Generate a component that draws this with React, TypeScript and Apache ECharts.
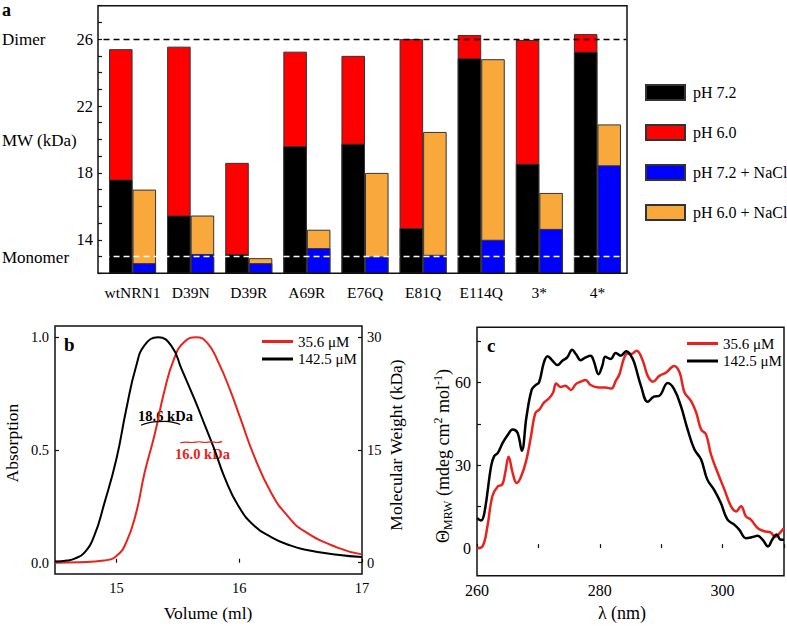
import React, { useEffect, useRef } from 'react';
import * as echarts from 'echarts';

const FONT = 'Liberation Serif';
const RED = '#e8231d';

// Panel a: SEC-MALS molecular weights (kDa)
const categories = ['wtNRN1', 'D39N', 'D39R', 'A69R', 'E76Q', 'E81Q', 'E114Q', '3*', '4*'];
const ph72 = [17.6, 15.45, 13.15, 19.6, 19.75, 14.7, 24.85, 18.55, 25.25];
const ph60 = [25.4, 25.55, 18.6, 25.25, 25.0, 26.0, 26.25, 25.95, 26.3];
const ph72NaCl = [12.6, 13.15, 12.6, 13.5, 13.0, 13.1, 14.0, 14.65, 18.45];
const ph60NaCl = [17.0, 15.45, 12.9, 14.6, 18.0, 20.45, 24.8, 16.8, 20.9];
const legendA = ['pH 7.2', 'pH 6.0', 'pH 7.2 + NaCl', 'pH 6.0 + NaCl'];
const dimerMW = 26;
const monomerMW = 13;
const aTickLabels = [14, 18, 22, 26];

// Panel b: SEC elution profiles [volume ml, absorption]
const concLabels = ['35.6 μM', '142.5 μM'];
const redB = [[14.5, 0.0], [14.7, 0.002], [14.9, 0.01], [15.0, 0.03], [15.08, 0.09], [15.16, 0.22], [15.23, 0.4], [15.31, 0.565], [15.39, 0.76], [15.47, 0.905], [15.55, 0.978], [15.65, 1.0], [15.74, 0.975], [15.83, 0.89], [15.93, 0.76], [16.01, 0.64], [16.12, 0.475], [16.26, 0.31], [16.39, 0.21], [16.53, 0.14], [16.8, 0.067], [17.0, 0.037]];
const blackB = [[14.5, 0.005], [14.6, 0.01], [14.66, 0.018], [14.74, 0.045], [14.82, 0.12], [14.9, 0.26], [15.0, 0.46], [15.08, 0.68], [15.16, 0.87], [15.23, 0.965], [15.34, 1.0], [15.45, 0.96], [15.53, 0.86], [15.64, 0.72], [15.72, 0.61], [15.8, 0.5], [15.88, 0.38], [15.99, 0.255], [16.12, 0.165], [16.26, 0.114], [16.4, 0.08], [16.53, 0.059], [16.8, 0.035], [17.0, 0.025]];
// MW traces across peaks (kDa, right axis)
const mwBlack = [[15.2, 18.3], [15.26, 18.6], [15.33, 18.78], [15.4, 18.8], [15.47, 18.65], [15.52, 18.4]];
const mwRed = [[15.52, 15.95], [15.57, 16.05], [15.62, 16.0], [15.67, 16.1], [15.72, 16.0], [15.77, 16.08], [15.82, 16.0], [15.86, 16.15]];
const mwBlackLabel = '18.6 kDa';
const mwRedLabel = '16.0 kDa';

// Panel c: near-UV CD spectra [λ nm, Θ]
const redC = [[260, 0], [260.9, 0.6], [261.7, 7.9], [262.5, 18.8], [263.4, 22.4], [264.1, 23], [264.6, 27.3], [265.15, 33.1], [265.8, 27.3], [266.45, 23.6], [267.1, 25.5], [268.0, 31.5], [268.8, 40.6], [269.5, 48.9], [270.2, 50.3], [270.9, 52.7], [271.7, 54.2], [272.4, 56.4], [272.9, 59.6], [273.6, 58.4], [274.4, 58.8], [275.3, 57.3], [276.1, 59.4], [276.9, 60.3], [277.7, 60.9], [278.5, 59.1], [279.85, 58.2], [280.9, 58.2], [281.9, 57.8], [282.6, 60.6], [283.2, 63], [283.9, 68.5], [284.5, 70.5], [285.1, 70.3], [286.0, 71.5], [287.0, 67.9], [287.8, 62.4], [288.65, 60.3], [289.7, 62.4], [290.8, 63.6], [292.1, 66], [293.0, 63.6], [293.8, 56.4], [294.85, 53.3], [295.7, 49.1], [296.5, 43], [297.3, 41.2], [298.1, 34], [299.2, 27.3], [300.3, 21.2], [301.35, 15.2], [302.2, 13.3], [303.0, 15.2], [303.8, 11.5], [304.6, 10.3], [305.7, 7.3], [306.8, 6.1], [307.8, 5.7], [308.6, 4], [309.4, 5.7], [310, 7.3]];
const blackC = [[260, 10.9], [260.65, 10], [261.2, 12.7], [262.3, 29.7], [262.8, 33.3], [263.4, 34.5], [264.2, 38.2], [265.0, 41], [265.8, 43], [266.6, 41.8], [267.3, 35.3], [268.06, 47.6], [268.9, 57.3], [269.5, 59], [270.1, 60], [270.9, 67.3], [271.5, 69.5], [272.3, 67.9], [273.1, 66.3], [273.9, 67.9], [274.7, 69.1], [275.5, 71.9], [276.1, 70.3], [276.9, 68.1], [277.7, 69.1], [278.5, 69.7], [279.0, 67.9], [279.8, 63], [280.4, 66], [280.9, 69.3], [281.75, 68.5], [282.6, 70.7], [283.4, 69.7], [284.3, 71.3], [285.0, 70.0], [285.6, 67.3], [286.7, 58.8], [287.8, 53], [288.8, 54.9], [289.7, 55.2], [291.05, 59.8], [292.1, 57.6], [293.2, 51.5], [294.3, 43], [295.4, 35.8], [296.5, 32.1], [297.5, 24.9], [298.6, 21.2], [299.7, 16.4], [300.8, 10.3], [301.9, 8.5], [302.7, 6.7], [303.8, 3.6], [304.85, 4], [305.7, 4.5], [306.5, 3.1], [307.4, 0.6], [308.1, 3.1], [308.8, 4.9], [309.4, 3.1], [310, 3]];

const txt = (extra: any) => ({ color: '#000', fontFamily: FONT, ...extra });

export default function App() {
  const ref = useRef<HTMLDivElement>(null);
  useEffect(() => {
    if (!ref.current) return;
    const chart = echarts.init(ref.current, null, { renderer: 'svg' });
    const tickStyle = { color: '#111', width: 1.2 };
    const barBorder = { borderColor: '#333', borderWidth: 1 };
    const option: any = {
      animation: false,
      backgroundColor: '#fff',
      textStyle: { fontFamily: FONT },
      grid: [
        { left: 103.5, top: 5.7, width: 523, height: 267.5 },
        { left: 55, top: 326, width: 307, height: 248, show: true, borderColor: '#111', borderWidth: 1.5, backgroundColor: 'transparent' },
        { left: 477, top: 327.3, width: 308, height: 248.4, show: true, borderColor: '#111', borderWidth: 1.5, backgroundColor: 'transparent' },
      ],
      xAxis: [
        { type: 'category', gridIndex: 0, data: categories, axisLine: { show: false }, axisTick: { show: false }, axisLabel: txt({ fontSize: 15.5, margin: 11, interval: 0 }) },
        { type: 'category', gridIndex: 0, data: categories, show: false },
        { type: 'value', gridIndex: 1, min: 14.5, max: 17, axisLine: { show: false }, splitLine: { show: false },
          axisTick: { inside: true, length: 4, customValues: [15, 16, 17], lineStyle: tickStyle },
          axisLabel: txt({ customValues: [15, 16, 17], fontSize: 14.5, margin: 6 }) },
        { type: 'value', gridIndex: 2, min: 260, max: 310, interval: 10, axisLine: { show: false }, splitLine: { show: false },
          axisTick: { inside: true, length: 4, lineStyle: tickStyle },
          axisLabel: txt({ fontSize: 16, margin: 7, formatter: (v: number) => (v % 20 === 0 ? String(v) : '') }) },
      ],
      yAxis: [
        { type: 'value', gridIndex: 0, min: 12, max: 28, interval: 1, offset: 5.5, axisLine: { show: false }, splitLine: { show: false },
          axisTick: { show: true, inside: true, length: 4, lineStyle: tickStyle },
          axisLabel: txt({ fontSize: 16.5, margin: 5, formatter: (v: number) => (aTickLabels.includes(v) ? String(v) : '') }) },
        { type: 'value', gridIndex: 1, min: -0.05, max: 1.05, axisLine: { show: false }, splitLine: { show: false },
          axisTick: { show: true, inside: true, length: 4, customValues: [0, 0.5, 1], lineStyle: tickStyle },
          axisLabel: txt({ customValues: [0, 0.5, 1], fontSize: 14.5, margin: 6, formatter: (v: number) => v.toFixed(1) }) },
        { type: 'value', gridIndex: 1, position: 'right', min: -1.5, max: 31.5, axisLine: { show: false }, splitLine: { show: false },
          axisTick: { show: true, inside: true, length: 4, customValues: [0, 15, 30], lineStyle: tickStyle },
          axisLabel: txt({ customValues: [0, 15, 30], fontSize: 14.5, margin: 5 }) },
        { type: 'value', gridIndex: 2, min: -10, max: 80, axisLine: { show: false }, splitLine: { show: false },
          axisTick: { show: true, inside: true, length: 4, customValues: [0, 15, 30, 45, 60, 75], lineStyle: tickStyle },
          axisLabel: txt({ customValues: [0, 30, 60], fontSize: 16, margin: 6 }) },
      ],
      legend: [
        { data: legendA, orient: 'vertical', left: 645, top: 84, padding: 0, itemWidth: 39, itemHeight: 15, itemGap: 23, icon: 'rect', selectedMode: false,
          textStyle: txt({ fontSize: 16, padding: [0, 0, 0, 3] }) },
        { data: concLabels, orient: 'vertical', left: 262, top: 334, padding: 0, itemWidth: 31, itemHeight: 3, itemGap: 2.5, icon: 'rect', selectedMode: false,
          textStyle: txt({ fontSize: 15, lineHeight: 15 }) },
        { data: concLabels, orient: 'vertical', left: 687, top: 336, padding: 0, itemWidth: 31, itemHeight: 3, itemGap: 2.5, icon: 'rect', selectedMode: false,
          textStyle: txt({ fontSize: 15, lineHeight: 15 }) },
      ],
      series: [
        { name: 'pH 6.0', type: 'bar', xAxisIndex: 1, yAxisIndex: 0, data: ph60, z: 2, barGap: '0%', barCategoryGap: '19%', itemStyle: { color: '#ff0000', ...barBorder } },
        { name: 'pH 6.0 + NaCl', type: 'bar', xAxisIndex: 1, yAxisIndex: 0, data: ph60NaCl, z: 2, barGap: '0%', barCategoryGap: '19%', itemStyle: { color: '#f9a83b', ...barBorder } },
        { name: 'pH 7.2', type: 'bar', xAxisIndex: 0, yAxisIndex: 0, data: ph72, z: 3, barGap: '0%', barCategoryGap: '19%', itemStyle: { color: '#000000', ...barBorder } },
        { name: 'pH 7.2 + NaCl', type: 'bar', xAxisIndex: 0, yAxisIndex: 0, data: ph72NaCl, z: 3, barGap: '0%', barCategoryGap: '19%', itemStyle: { color: '#0000ff', ...barBorder },
          markLine: { silent: true, symbol: ['none', 'none'], label: { show: false },
            data: [
              { yAxis: dimerMW, lineStyle: { color: '#000', type: [6, 4], width: 1.4 } },
              { yAxis: monomerMW, lineStyle: { color: '#fff', type: [6, 4], width: 1.4 } },
            ] } },
        { name: concLabels[0], type: 'line', xAxisIndex: 2, yAxisIndex: 1, data: redB, smooth: true, showSymbol: false, lineStyle: { color: RED, width: 2 }, itemStyle: { color: RED } },
        { name: concLabels[1], type: 'line', xAxisIndex: 2, yAxisIndex: 1, data: blackB, smooth: true, showSymbol: false, lineStyle: { color: '#000', width: 2 }, itemStyle: { color: '#000' } },
        { name: 'MW ' + concLabels[1], type: 'line', xAxisIndex: 2, yAxisIndex: 2, data: mwBlack, smooth: true, showSymbol: false, lineStyle: { color: '#000', width: 1.2 }, itemStyle: { color: '#000' } },
        { name: 'MW ' + concLabels[0], type: 'line', xAxisIndex: 2, yAxisIndex: 2, data: mwRed, smooth: true, showSymbol: false, lineStyle: { color: RED, width: 1.2 }, itemStyle: { color: RED } },
        { name: concLabels[0], type: 'line', xAxisIndex: 3, yAxisIndex: 3, data: redC, smooth: 0.4, showSymbol: false, lineStyle: { color: RED, width: 2.5 }, itemStyle: { color: RED } },
        { name: concLabels[1], type: 'line', xAxisIndex: 3, yAxisIndex: 3, data: blackC, smooth: 0.4, showSymbol: false, lineStyle: { color: '#000', width: 2.5 }, itemStyle: { color: '#000' } },
      ],
      graphic: [
        { type: 'rect', z: 100, shape: { x: 98, y: 5.7, width: 529, height: 267.6 }, style: { fill: 'none', stroke: '#111', lineWidth: 1.5 }, silent: true },
        { type: 'text', x: 2, y: 9.5, style: { text: 'a', fontSize: 18, fontWeight: 'bold', fontFamily: FONT, fill: '#000', verticalAlign: 'middle' } },
        { type: 'text', x: 2, y: 39, style: { text: 'Dimer', fontSize: 17, fontFamily: FONT, fill: '#000', verticalAlign: 'middle' } },
        { type: 'text', x: 2, y: 140, style: { text: 'MW (kDa)', fontSize: 17, fontFamily: FONT, fill: '#000', verticalAlign: 'middle' } },
        { type: 'text', x: 2, y: 257, style: { text: 'Monomer', fontSize: 17, fontFamily: FONT, fill: '#000', verticalAlign: 'middle' } },
        { type: 'text', x: 64, y: 344, style: { text: 'b', fontSize: 19, fontWeight: 'bold', fontFamily: FONT, fill: '#000', verticalAlign: 'middle' } },
        { type: 'text', x: 487, y: 345, style: { text: 'c', fontSize: 19, fontWeight: 'bold', fontFamily: FONT, fill: '#000', verticalAlign: 'middle' } },
        { type: 'text', x: 165.5, y: 416, style: { text: mwBlackLabel, fontSize: 14.5, fontWeight: 'bold', fontFamily: FONT, fill: '#000', align: 'center', verticalAlign: 'middle' } },
        { type: 'text', x: 202.5, y: 454, style: { text: mwRedLabel, fontSize: 14.5, fontWeight: 'bold', fontFamily: FONT, fill: RED, align: 'center', verticalAlign: 'middle' } },
        { type: 'text', x: 12, y: 443, rotation: Math.PI / 2, style: { text: 'Absorption', fontSize: 17.5, fontFamily: FONT, fill: '#000', align: 'center', verticalAlign: 'middle' } },
        { type: 'text', x: 396, y: 445, rotation: Math.PI / 2, style: { text: 'Molecular Weight (kDa)', fontSize: 17.5, fontFamily: FONT, fill: '#000', align: 'center', verticalAlign: 'middle' } },
        { type: 'text', x: 208, y: 613, style: { text: 'Volume (ml)', fontSize: 17.5, fontFamily: FONT, fill: '#000', align: 'center', verticalAlign: 'middle' } },
        { type: 'text', x: 622, y: 613, style: { text: 'λ (nm)', fontSize: 18, fontFamily: FONT, fill: '#000', align: 'center', verticalAlign: 'middle' } },
        { type: 'text', x: 443, y: 456, rotation: Math.PI / 2,
          style: { text: '{m|Θ}{s|MRW}{m| (mdeg cm}{p|2}{m| mol}{p|-1}{m|)}', align: 'center', verticalAlign: 'middle', fill: '#000', fontFamily: FONT,
            rich: {
              m: { fontSize: 18, fontFamily: FONT, lineHeight: 22, color: '#000' },
              s: { fontSize: 12, fontFamily: FONT, lineHeight: 12, verticalAlign: 'bottom', color: '#000' },
              p: { fontSize: 12, fontFamily: FONT, lineHeight: 12, verticalAlign: 'top', color: '#000' },
            } } },
      ],
    };
    chart.setOption(option);
    return () => chart.dispose();
  }, []);
  return <div ref={ref} style={{ position: 'fixed', left: 0, top: 0, width: 787, height: 626 }} />;
}
